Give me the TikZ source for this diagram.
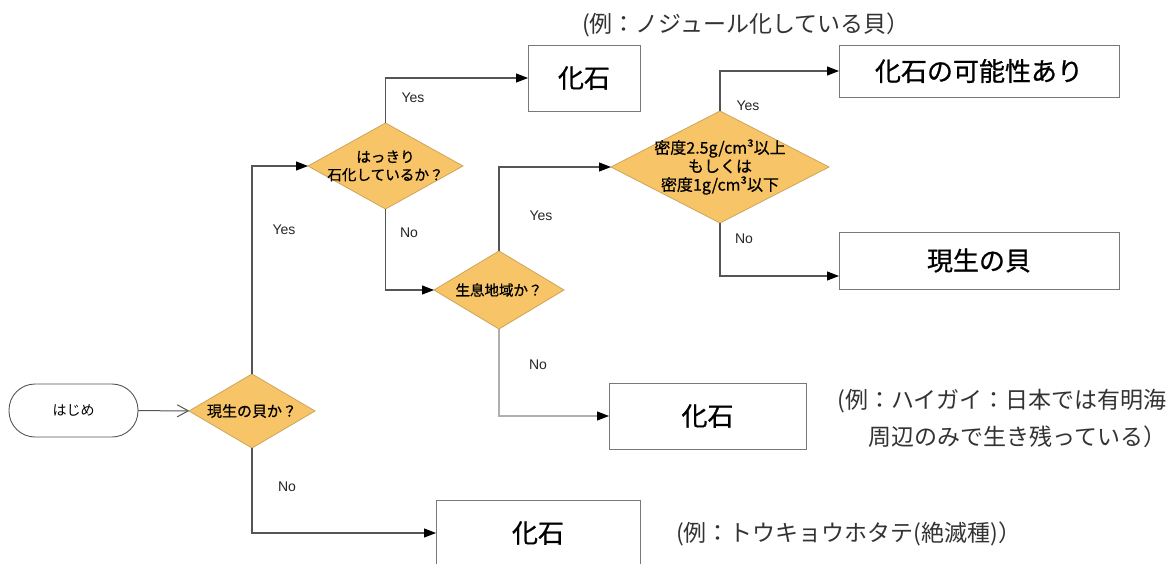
\documentclass[tikz,border=0pt]{standalone}
\usepackage{fontspec}
\newfontfamily\jp{Noto Sans CJK JP}
\newfontfamily\jpb[FakeBold=0.8]{Noto Sans CJK JP}
\newfontfamily\arial{Liberation Sans}
\usetikzlibrary{shapes.geometric,arrows.meta}
\definecolor{dfill}{RGB}{248,196,104}
\definecolor{dline}{RGB}{205,165,90}
\definecolor{cline}{RGB}{85,85,85}
\definecolor{lline}{RGB}{175,175,175}
\definecolor{bline}{RGB}{120,120,120}
\tikzset{
  dia/.style={diamond, draw=dline, fill=dfill, line width=0.8pt, inner sep=0pt, outer sep=0pt},
  dtext/.style={font=\jpb\fontsize{15}{18}\selectfont, align=center, inner sep=0pt},
  box/.style={rectangle, draw=bline, fill=white, line width=1pt, inner sep=0pt, outer sep=0pt,
              font=\jpb\fontsize{26}{30}\selectfont},
  term/.style={rectangle, draw=cline, rounded corners=26pt, line width=0.9pt, inner sep=0pt, outer sep=0pt,
               font=\jp\fontsize{14}{16}\selectfont},
  conn/.style={draw=cline, line width=1.1pt, -{Triangle[length=12pt,width=9pt,color=black]}},
  openarr/.style={draw=cline, line width=1pt, -{Straight Barb[length=11pt,width=12pt]}},
  lbl/.style={font=\arial\fontsize{14}{16}\selectfont, text=black!85, inner sep=0pt},
  ann/.style={font=\jp\fontsize{23}{37}\selectfont, text=black!80, inner sep=0pt},
}
\begin{document}
\begin{tikzpicture}[x=1pt,y=-1pt]
\useasboundingbox (0,0) rectangle (1173,563);
\fill[white] (0,0) rectangle (1173,563);

% start
\node[term, minimum width=129pt, minimum height=53pt] (start) at (73.5,410.5) {はじめ};

% decisions
\node[dia, minimum width=126pt, minimum height=74pt] (d1) at (252,411) {};
\node[dtext] (t1) at (d1) {現生の貝か？};
\node[dia, minimum width=155pt, minimum height=86pt] (d2) at (385.5,166) {};
\node[dtext, font=\jpb\fontsize{14.6}{18}\selectfont] (t2) at (d2) {はっきり\\石化しているか？};
\node[dia, minimum width=130pt, minimum height=78pt] (d3) at (499,290) {};
\node[dtext, font=\jpb\fontsize{14.5}{18}\selectfont] (t3) at (d3) {生息地域か？};
\node[dia, minimum width=218pt, minimum height=112pt] (d4) at (720,167) {};
\node[dtext, font=\jpb\fontsize{16}{18.5}\selectfont] (t4) at (d4) {密度2.5g/cm³以上\\もしくは\\密度1g/cm³以下};

% result boxes
\node[box, minimum width=112pt, minimum height=66pt] (b1) at (584,78) {化石};
\node[box, minimum width=280pt, minimum height=52pt] (b2) at (979,71) {化石の可能性あり};
\node[box, minimum width=280pt, minimum height=57pt] (b3) at (979,260.5) {現生の貝};
\node[box, minimum width=197pt, minimum height=66pt] (b4) at (707.5,416) {化石};
\node[box, minimum width=204pt, minimum height=66pt] (b5) at (538,533) {化石};

% connectors
\draw[openarr] (start) -- (d1);
\draw[conn] (d1.north) |- (d2.west);
\draw[conn] (d2.north) |- (b1.west);
\draw[conn] (d2.south) |- (d3.west);
\draw[conn] (d3.north) |- (d4.west);
\draw[conn] (d4.north) |- (b2.west);
\draw[conn] (d4.south) |- ([yshift=-15.5pt]b3.west);
\draw[conn, draw=lline] (d3.south) |- (b4.west);
\draw[conn] (d1.south) |- (b5.west);

% yes / no labels
\node[lbl] (y1) at (284,230) {Yes};
\node[lbl] (n1) at (287,487) {No};
\node[lbl] (y2) at (413,98) {Yes};
\node[lbl] (n2) at (409,233) {No};
\node[lbl] (y3) at (541,216) {Yes};
\node[lbl] (n3) at (538,365) {No};
\node[lbl] (y4) at (748,106) {Yes};
\node[lbl] (n4) at (744,239) {No};

% annotations
\node[ann, anchor=west] (a1) at (582,25) {(例：ノジュール化している貝）};
\node[ann, anchor=east, align=right] (a2) at (1167,418.5) {(例：ハイガイ：日本では有明海\\周辺のみで生き残っている）};
\node[ann, anchor=west] (a3) at (676,534) {(例：トウキョウホタテ(絶滅種)）};
\end{tikzpicture}
\end{document}
